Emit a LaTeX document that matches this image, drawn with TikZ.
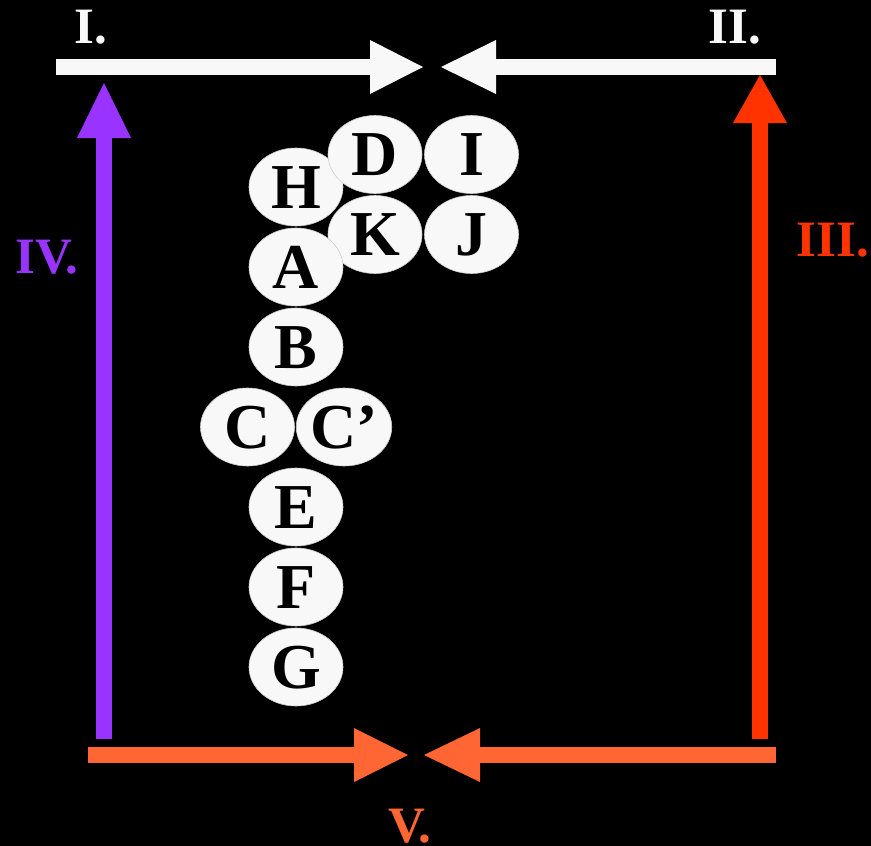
\documentclass[tikz,border=0pt]{standalone}
\usepackage{fontspec}
\setmainfont{Liberation Serif}
\usetikzlibrary{shapes.geometric,arrows.meta}
\definecolor{wht}{HTML}{F8F8F8}
\definecolor{purp}{HTML}{9933FF}
\definecolor{redo}{HTML}{FF3300}
\definecolor{orng}{HTML}{FF6633}
\begin{document}
\begin{tikzpicture}[x=1pt,y=-1pt,
  ball/.style={ellipse, fill=wht, draw=gray!40, line width=0.6pt, minimum width=94pt, minimum height=78pt, inner sep=0pt,
    font=\fontsize{64}{64}\selectfont\bfseries, text=black, text height=42.4pt, text depth=0pt},
  lbl/.style={anchor=base, inner sep=0pt, font=\fontsize{51}{51}\selectfont\bfseries},
  bar/.style={line width=16pt, line cap=butt}
]
\fill[black] (0,0) rectangle (871,846);
\useasboundingbox (0,0) rectangle (871,846);

% arrow end points
\coordinate (t1s) at (56,67);   \coordinate (t1e) at (423,67);
\coordinate (t2s) at (776,67);  \coordinate (t2e) at (441,67);
\coordinate (ps)  at (104,739); \coordinate (pe)  at (104,83);
\coordinate (rs)  at (760,739); \coordinate (re)  at (760,75);
\coordinate (b1s) at (88,755);  \coordinate (b1e) at (408,755);
\coordinate (b2s) at (776,755); \coordinate (b2e) at (424,755);

\draw[bar, wht, -{Triangle[length=53pt,width=54pt,line width=0pt]}] (t1s) -- (t1e);
\draw[bar, wht, -{Triangle[length=55pt,width=54pt,line width=0pt]}] (t2s) -- (t2e);
\draw[bar, purp, -{Triangle[length=55pt,width=54pt,line width=0pt]}] (ps) -- (pe);
\draw[bar, redo, -{Triangle[length=48pt,width=54pt,line width=0pt]}] (rs) -- (re);
\draw[bar, orng, -{Triangle[length=54pt,width=54pt,line width=0pt]}] (b1s) -- (b1e);
\draw[bar, orng, -{Triangle[length=56pt,width=54pt,line width=0pt]}] (b2s) -- (b2e);

% labels
\node[lbl, text=wht]  (L1) at (91,43) {I.};
\node[lbl, text=wht]  (L2) at (735,43) {II.};
\node[lbl, text=redo] (L3) at (833,256) {III.};
\node[lbl, text=purp] (L4) at (47,273) {IV.};
\node[lbl, text=orng] (L5) at (410,842) {V.};

% balls
\node[ball] (H)  at (296,187)   {H};
\node[ball] (D)  at (375,154.5) {D};
\node[ball] (I)  at (471.5,154.5) {I};
\node[ball] (K)  at (375,234.5) {K};
\node[ball] (J)  at (471.5,234.5) {J};
\node[ball] (A)  at (296,267)   {A};
\node[ball] (B)  at (296,347)   {B};
\node[ball] (C)  at (247.5,427) {C};
\node[ball] (Cp) at (344,427)   {C’};
\node[ball] (E)  at (296,507)   {E};
\node[ball] (F)  at (296,587)   {F};
\node[ball] (G)  at (296,667)   {G};
\end{tikzpicture}
\end{document}
